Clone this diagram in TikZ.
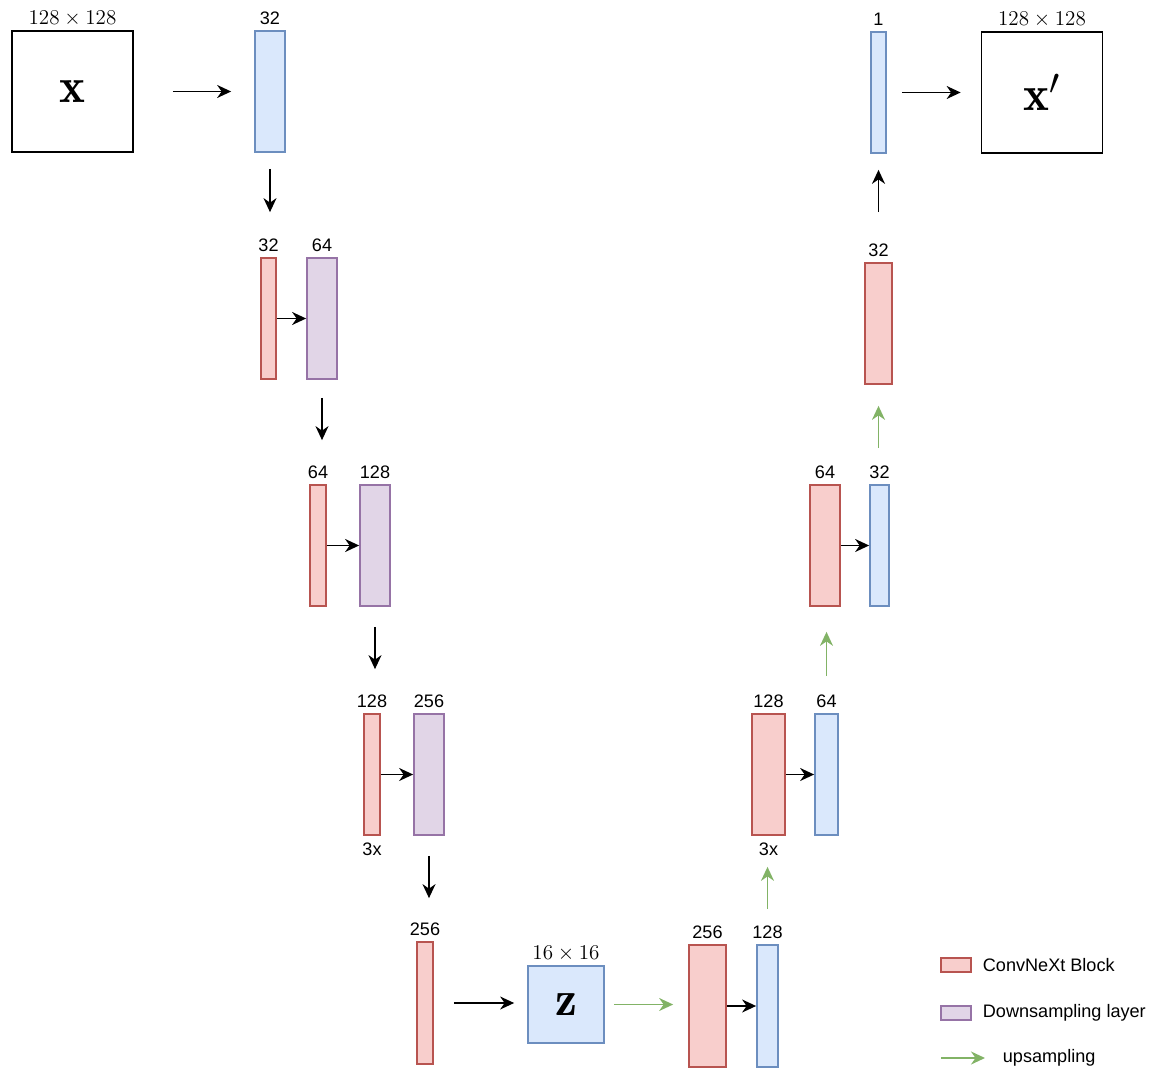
\documentclass[tikz,border=0pt]{standalone}
\usepackage{fontspec}
\setsansfont{Liberation Sans}
\usetikzlibrary{arrows.meta,positioning}

\definecolor{convfill}{HTML}{F8CECC}
\definecolor{convdraw}{HTML}{B85450}
\definecolor{downfill}{HTML}{E1D5E7}
\definecolor{downdraw}{HTML}{9673A6}
\definecolor{featfill}{HTML}{DAE8FC}
\definecolor{featdraw}{HTML}{6C8EBF}
\definecolor{upgreen}{HTML}{82B366}

\begin{document}
\begin{tikzpicture}[x=0.02cm,y=-0.02cm,
                    >={Stealth[length=2.8mm,width=2.6mm,inset=0.9mm]},
                    line width=1pt,
                    block/.style={rectangle,draw,inner sep=0,minimum height=2.42cm},
                    conv node/.style={block,draw=convdraw,fill=convfill},
                    down node/.style={block,draw=downdraw,fill=downfill},
                    feat node/.style={block,draw=featdraw,fill=featfill},
                    io node/.style={block,draw=black,minimum width=2.42cm,font=\fontsize{28}{32}\selectfont},
                    dim/.style={inner sep=0,font=\sffamily\fontsize{10.3}{12}\selectfont},
                    mdim/.style={inner sep=0,font=\fontsize{12}{14}\selectfont},
                    uparr/.style={->,draw=upgreen,color=upgreen}]

  \useasboundingbox (0,0) rectangle (1153,1071);

  % encoder
  \node[io node] (in) at (72.5,91.5) [label={[mdim,label distance=0.06cm]above:$128\times128$}] {$\mathbf{x}$};
  \node[feat node,minimum width=0.6cm] (stem) at (270,91.5) [label={[dim,label distance=0.09cm]above:32}] {};

  \node[conv node,minimum width=0.3cm] (c1) at (268.5,318.5) [label={[dim,label distance=0.09cm]above:32}] {};
  \node[down node,minimum width=0.6cm] (d1) at (322,318.5) [label={[dim,label distance=0.09cm]above:64}] {};

  \node[conv node,minimum width=0.32cm] (c2) at (318,545.5) [label={[dim,label distance=0.09cm]above:64}] {};
  \node[down node,minimum width=0.6cm] (d2) at (375,545.5) [label={[dim,label distance=0.09cm]above:128}] {};

  \node[conv node,minimum width=0.32cm] (c3) at (372,774.5) [label={[dim,label distance=0.09cm]above:128},
                                                              label={[dim,label distance=0.12cm]below:3x}] {};
  \node[down node,minimum width=0.6cm] (d3) at (429,774.5) [label={[dim,label distance=0.09cm]above:256}] {};

  \node[conv node,minimum width=0.32cm,minimum height=2.44cm] (c4) at (425,1003) [label={[dim,label distance=0.09cm]above:256}] {};

  % latent
  \node[feat node,minimum width=1.52cm,minimum height=1.54cm,font=\fontsize{28}{32}\selectfont] (z) at (566,1004.5)
       [label={[mdim,label distance=0.06cm]above:$16\times16$}] {$\mathbf{z}$};

  % decoder
  \node[conv node,minimum width=0.74cm,minimum height=2.44cm] (u1) at (707.5,1006) [label={[dim,label distance=0.09cm]above:256}] {};
  \node[feat node,minimum width=0.42cm,minimum height=2.44cm] (f1) at (767.5,1006) [label={[dim,label distance=0.09cm]above:128}] {};

  \node[conv node,minimum width=0.66cm] (u2) at (768.5,774.5) [label={[dim,label distance=0.09cm]above:128},
                                                              label={[dim,label distance=0.12cm]below:3x}] {};
  \node[feat node,minimum width=0.46cm] (f2) at (826.5,774.5) [label={[dim,label distance=0.09cm]above:64}] {};

  \node[conv node,minimum width=0.6cm] (u3) at (825,545.5) [label={[dim,label distance=0.09cm]above:64}] {};
  \node[feat node,minimum width=0.38cm] (f3) at (879.5,545.5) [label={[dim,label distance=0.09cm]above:32}] {};

  \node[conv node,minimum width=0.54cm] (u4) at (878.5,323.5) [label={[dim,label distance=0.09cm]above:32}] {};

  \node[feat node,minimum width=0.3cm] (head) at (878.5,92.5) [label={[dim,label distance=0.09cm]above:1}] {};
  \node[io node] (out) at (1042,92.5) [label={[mdim,label distance=0.06cm]above:$128\times128$}] {$\mathbf{x}'$};

  % connections
  \draw[->,shorten <=0.78cm,shorten >=0.46cm] (in) -- (stem);
  \draw[->,shorten <=0.32cm,shorten >=0.9cm] (stem) -- (stem |- c1.north);
  \draw[->] (c1) -- (d1);
  \draw[->,shorten <=0.36cm,shorten >=0.88cm] (d1) -- (d1 |- c2.north);
  \draw[->] (c2) -- (d2);
  \draw[->,shorten <=0.4cm,shorten >=0.88cm] (d2) -- (d2 |- c3.north);
  \draw[->] (c3) -- (d3);
  \draw[->,shorten <=0.4cm,shorten >=0.86cm] (d3) -- (d3 |- c4.north);
  \draw[->,shorten <=0.4cm,shorten >=0.26cm] (c4) -- (c4 -| z.west);

  \draw[uparr,shorten <=0.18cm,shorten >=0.3cm] (z) -- (z -| u1.west);
  \draw[->] (u1) -- (f1);
  \draw[uparr,shorten <=0.7cm,shorten >=0.62cm] (f1) -- (f1 |- u2.south);
  \draw[->] (u2) -- (f2);
  \draw[uparr,shorten <=0.74cm,shorten >=0.5cm] (f2) -- (f2 |- u3.south);
  \draw[->] (u3) -- (f3);
  \draw[uparr,shorten <=0.72cm,shorten >=0.42cm] (f3.north -| u4) -- (u4);
  \draw[->,shorten <=1cm,shorten >=0.32cm] (u4) -- (u4 |- head.south);
  \draw[->,shorten <=0.3cm,shorten >=0.4cm] (head) -- (out);

  % legend
  \node[conv node,minimum width=0.6cm,minimum height=0.28cm] (lconv) at (956,965) {};
  \node[dim,anchor=west] (tconv) at (982,965) {ConvNeXt Block};
  \node[down node,minimum width=0.6cm,minimum height=0.28cm] (ldown) at (956,1013) {};
  \node[dim,anchor=west] (tdown) at (982,1013) {Downsampling layer};
  \coordinate (lup) at (941,1058);
  \coordinate (lupend) at (985,1058);
  \draw[uparr] (lup) -- (lupend);
  \node[dim,anchor=west] (tup) at (1002,1058) {upsampling};
\end{tikzpicture}
\end{document}
